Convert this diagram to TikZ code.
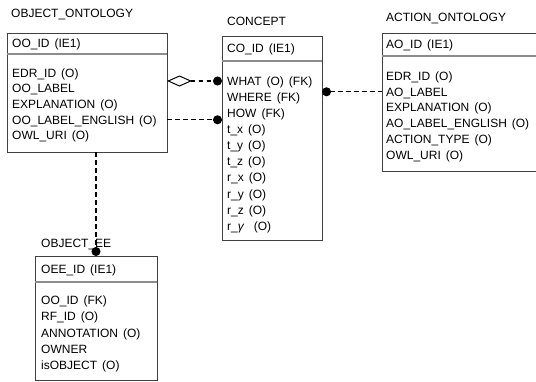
\documentclass[tikz,border=0pt]{standalone}
\usepackage{fontspec}
\setmainfont[WordSpace=1.5]{Liberation Sans}
\usetikzlibrary{arrows.meta}

\tikzset{
  entity/.style={draw=black!75, line width=0.9pt, anchor=north west, inner sep=0pt, outer sep=0pt},
  sepline/.style={draw=black!45, line width=1.6pt},
  txt/.style={anchor=west, inner sep=0pt, text height=8.6pt, text depth=0pt, font=\fontsize{12}{14}\selectfont},
  rel/.style={line width=1.1pt, dash pattern=on 4.5pt off 3.5pt},
}

\begin{document}
\begin{tikzpicture}[x=1pt, y=-1pt]
        \useasboundingbox (0,0) rectangle (536,381);

        \node[entity, minimum width=160pt, minimum height=119pt] (oo) at (7,33) {};
        \node[entity, minimum width=100pt, minimum height=204pt] (co) at (222,36) {};
        \node[entity, minimum width=170pt, minimum height=138pt] (ao) at (382,33) {};
        \node[entity, minimum width=122pt, minimum height=124pt] (oee) at (35,256) {};

        \draw[sepline] ([yshift=-21pt]oo.north west) -- ([yshift=-21pt]oo.north east);
        \draw[sepline] ([yshift=-25pt]co.north west) -- ([yshift=-25pt]co.north east);
        \draw[sepline] ([yshift=-23pt]ao.north west) -- ([yshift=-23pt]ao.north east);
        \draw[sepline] ([yshift=-26pt]oee.north west) -- ([yshift=-26pt]oee.north east);

        \node[txt] (oo-name) at (11,13) {OBJECT\_ONTOLOGY};
        \node[txt] (co-name) at (227,21) {CONCEPT};
        \node[txt] (ao-name) at (386,17) {ACTION\_ONTOLOGY};
        \node[txt] (oee-name) at (41,243) {OBJECT\_EE};

        \node[txt] (oo-key) at (12,43) {OO\_ID (IE1)};
        \node[txt] (co-key) at (227,48) {CO\_ID (IE1)};
        \node[txt] (ao-key) at (386,44) {AO\_ID (IE1)};
        \node[txt] (oee-key) at (41,269) {OEE\_ID (IE1)};

        \foreach \t [count=\i] in {EDR\_ID (O), OO\_LABEL, EXPLANATION (O),
            OO\_LABEL\_ENGLISH (O), OWL\_URI (O)}
          \node[txt] (oo-\i) at (12,{73+15.6*(\i-1)}) {\t};
        \foreach \t [count=\i] in {WHAT (O) (FK), WHERE (FK), HOW (FK), t\_x (O), t\_y (O),
            t\_z (O), r\_x (O), r\_y (O), r\_z (O), r\_{\itshape γ}~ (O)}
          \node[txt] (co-\i) at (227,{81+16.1*(\i-1)}) {\t};
        \foreach \t [count=\i] in {EDR\_ID (O), AO\_LABEL, EXPLANATION (O),
            AO\_LABEL\_ENGLISH (O), ACTION\_TYPE (O), OWL\_URI (O)}
          \node[txt] (ao-\i) at (386,{76+15.8*(\i-1)}) {\t};
        \foreach \t [count=\i] in {OO\_ID (FK), RF\_ID (O), ANNOTATION (O), OWNER, isOBJECT (O)}
          \node[txt] (oee-\i) at (41,{300+16.4*(\i-1)}) {\t};

        \draw[rel, {Diamond[open, length=25pt, width=11pt, line width=1pt]}-{Circle[length=9pt]}]
          (oo.east |- co-1.west) -- (co.west |- co-1.west);
        \draw[rel, -{Circle[length=9pt]}] (oo.east |- oo-4.west) -- (co.west |- oo-4.west);
        \draw[rel, {Circle[length=9pt]}-] (co.east |- ao-2.west) -- (ao.west |- ao-2.west);
        \draw[rel, -{Circle[length=9pt]}] (oee.north |- oo.south) -- (oee.north);

    \end{tikzpicture}
\end{document}
